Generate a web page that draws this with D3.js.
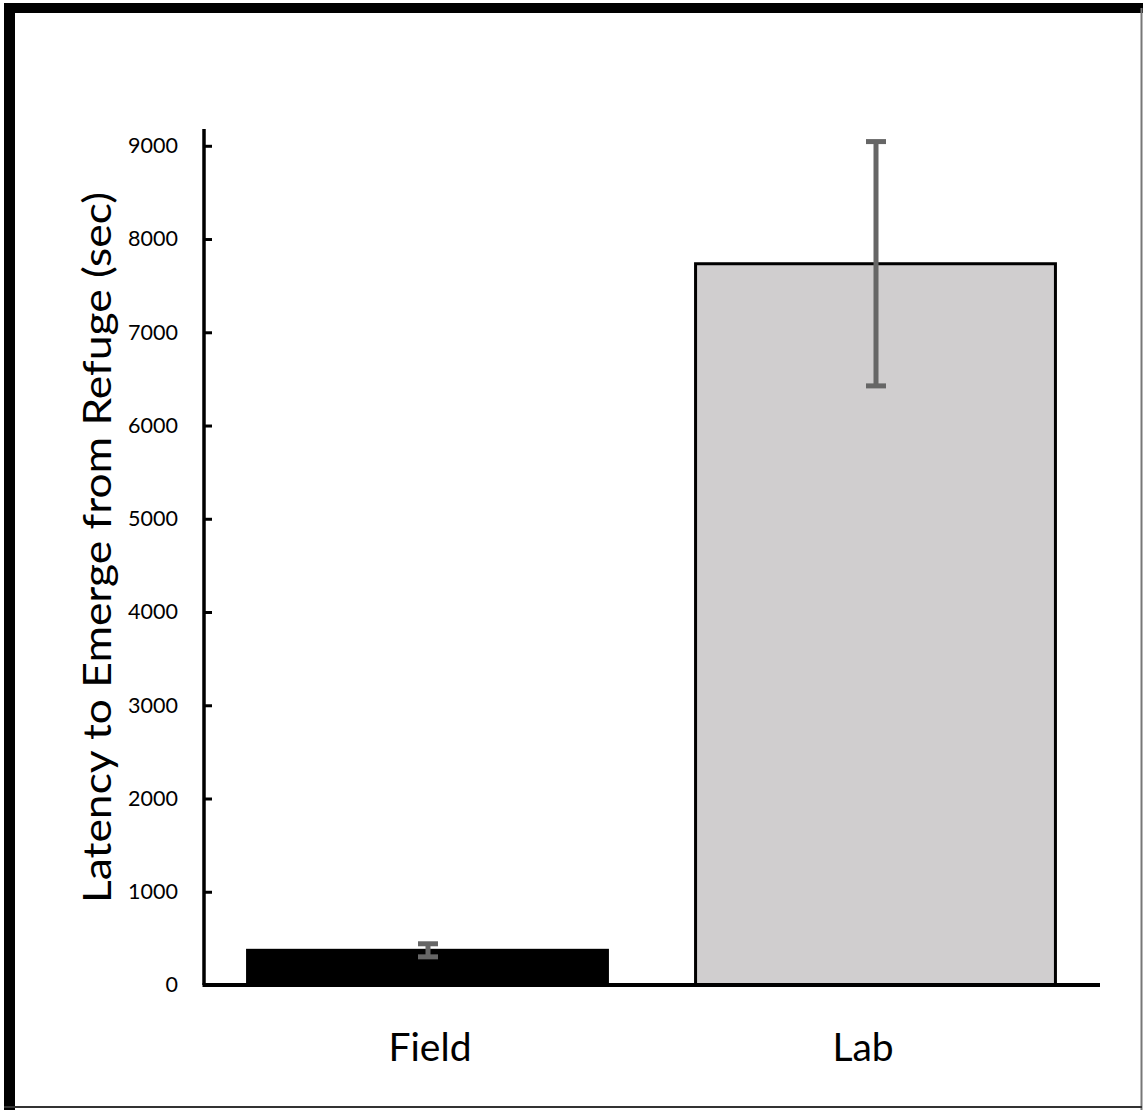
<!DOCTYPE html>
<html>
<head>
<meta charset="utf-8">
<script src="https://cdn.jsdelivr.net/npm/d3@7"></script>
<style>
  html, body { margin: 0; padding: 0; background: #fff; }
  svg { display: block; }
</style>
</head>
<body>
<svg id="chart" width="1143" height="1110"></svg>
<script>
const categories = ["Field", "Lab"];
const means = [372, 7735];
const errors = [70, 1310];
const yTicks = [0, 1000, 2000, 3000, 4000, 5000, 6000, 7000, 8000, 9000];
const yLabel = "Latency to Emerge from Refuge (sec)";
const barFills = ["#000000", "#D0CECF"];

const svg = d3.select("#chart");
const W = 1143, H = 1110;
const font = "Lato, 'Open Sans', sans-serif";

// frame
svg.append("rect").attr("x", 0).attr("y", 0).attr("width", W).attr("height", H).attr("fill", "#fff");
svg.append("rect").attr("x", 4).attr("y", 3).attr("width", W - 4).attr("height", 10).attr("fill", "#000");
svg.append("rect").attr("x", 4).attr("y", 3).attr("width", 11).attr("height", H - 3).attr("fill", "#000");
svg.append("line").attr("x1", 1141.5).attr("x2", 1141.5).attr("y1", 8).attr("y2", H)
  .attr("stroke", "#777").attr("stroke-width", 2);
svg.append("line").attr("x1", 4).attr("x2", 1142).attr("y1", 1107).attr("y2", 1107)
  .attr("stroke", "#333").attr("stroke-width", 2);

const x0 = 204, x1 = 1100, yBase = 985, yTop = 129;

const x = d3.scaleBand().domain(categories).range([x0, x1])
  .paddingInner(0.19).paddingOuter(0.095);
const y = d3.scaleLinear().domain([0, 9180]).range([yBase, yTop]);

// bars
svg.append("g").selectAll("rect").data(categories).join("rect")
  .attr("x", d => x(d) + 1)
  .attr("y", (d, i) => y(means[i]))
  .attr("width", x.bandwidth() - 3)
  .attr("height", (d, i) => y(0) - y(means[i]))
  .attr("fill", (d, i) => barFills[i])
  .attr("stroke", "#000")
  .attr("stroke-width", 3);

// error bars
const eg = svg.append("g").attr("stroke", "#666");
categories.forEach((c, i) => {
  const cx = x(c) + x.bandwidth() / 2;
  const hi = y(means[i] + errors[i]), lo = y(means[i] - errors[i]);
  eg.append("line").attr("x1", cx).attr("x2", cx).attr("y1", hi).attr("y2", lo).attr("stroke-width", 5);
  [hi, lo].forEach(yy => {
    eg.append("line").attr("x1", cx - 10).attr("x2", cx + 10).attr("y1", yy).attr("y2", yy).attr("stroke-width", 5);
  });
});

// y axis
const yAxis = d3.axisLeft(y).tickValues(yTicks).tickFormat(d3.format("d"))
  .tickSizeInner(-8).tickSizeOuter(0).tickPadding(26);
const ya = svg.append("g").attr("transform", `translate(${x0},0)`).call(yAxis);
ya.select(".domain").attr("stroke", "#000").attr("stroke-width", 3.5)
  .attr("d", `M0,${yTop}V${yBase}`);
ya.selectAll(".tick line").attr("stroke", "#000").attr("stroke-width", 3);
ya.selectAll(".tick text").attr("fill", "#000").style("font-family", font).style("font-size", "21.5px");

// x axis
const xLabelShift = { Field: 2, Lab: -13 };
const xAxis = d3.axisBottom(x).tickSize(0).tickPadding(48);
const xa = svg.append("g").attr("transform", `translate(0,${yBase})`).call(xAxis);
xa.select(".domain").attr("stroke", "#000").attr("stroke-width", 4)
  .attr("d", `M${x0 - 1.5},0H${x1}`);
xa.selectAll(".tick text").attr("fill", "#000").style("font-family", font).style("font-size", "39px")
  .attr("dy", "0.71em").attr("dx", d => xLabelShift[d]);

// y label
svg.append("text")
  .attr("transform", `translate(111,547.5) rotate(-90)`)
  .attr("text-anchor", "middle")
  .attr("textLength", 711).attr("lengthAdjust", "spacingAndGlyphs")
  .style("font-family", font).style("font-size", "39px").attr("fill", "#000")
  .text(yLabel);
</script>
</body>
</html>
